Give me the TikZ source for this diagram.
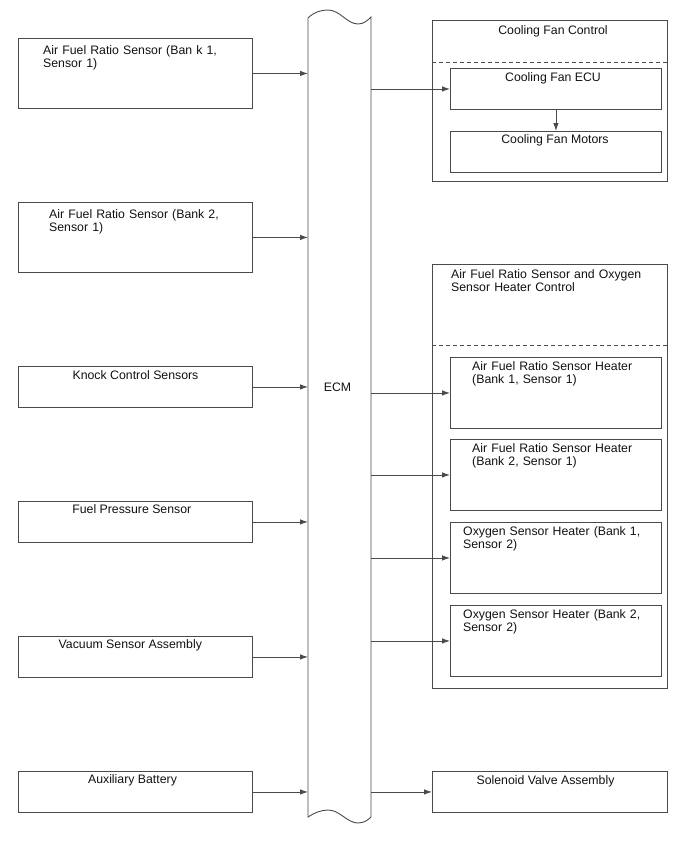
\documentclass[tikz,border=0pt]{standalone}
\usepackage{fontspec}
\setmainfont{Liberation Sans}
\usetikzlibrary{arrows.meta}
\definecolor{edge}{HTML}{4A4A4A}
\definecolor{ink}{HTML}{111111}

\begin{document}
\begin{tikzpicture}[x=1pt, y=-1pt, font=\fontsize{12.3}{13.8}\selectfont,
  box/.style={draw=edge, line width=0.9pt, rectangle, inner sep=0pt, anchor=north west},
  txt/.style={inner sep=0pt, text=ink},
  para/.style={txt, anchor=base west, text width=210pt, align=left},
  arr/.style={draw=edge, line width=0.9pt, -{Latex[length=8pt,width=5.5pt]}}]
  \useasboundingbox (0,0) rectangle (688,852);

  % inputs
  \node[box, minimum width=234pt, minimum height=70pt] (afr1) at (18,38) {};
  \node[box, minimum width=234pt, minimum height=70pt] (afr2) at (18,202) {};
  \node[box, minimum width=234pt, minimum height=41pt] (knock) at (18,366) {};
  \node[box, minimum width=234pt, minimum height=41pt] (fuel) at (18,501) {};
  \node[box, minimum width=234pt, minimum height=41pt] (vac) at (18,636) {};
  \node[box, minimum width=234pt, minimum height=41pt] (aux) at (18,771) {};
  \node[para] (afr1t) at (43,54) {Air Fuel Ratio Sensor (Ban k 1,\\Sensor 1)};
  \node[para] (afr2t) at (49,218) {Air Fuel Ratio Sensor (Bank 2,\\Sensor 1)};
  \node[txt, anchor=base] (knockt) at (135.5,379) {Knock Control Sensors};
  \node[txt, anchor=base] (fuelt) at (131.8,513) {Fuel Pressure Sensor};
  \node[txt, anchor=base] (vact) at (130.3,648) {Vacuum Sensor Assembly};
  \node[txt, anchor=base] (auxt) at (132.5,783) {Auxiliary Battery};

  % ECM
  \node[inner sep=0pt, minimum width=63pt, minimum height=800pt, anchor=north west] (ecm) at (308,17) {};
  \draw[edge, line width=0.9pt] (308,18) .. controls (314,12) and (321,10) .. (328,10)
    .. controls (340,10) and (347,24) .. (358,24) .. controls (364,24) and (368,20) .. (371,17)
    -- (371,817) .. controls (368,820) and (364,823) .. (358,823)
    .. controls (347,823) and (340,810) .. (328,810) .. controls (321,810) and (314,813) .. (308,817)
    -- cycle;
  \node[txt, anchor=base] (ecmt) at (337.5,391) {ECM};

  % cooling fan
  \node[box, minimum width=235pt, minimum height=161pt] (fanctl) at (432,20) {};
  \node[box, minimum width=211pt, minimum height=41pt] (fanecu) at (450,68) {};
  \node[box, minimum width=211pt, minimum height=41pt] (fanmot) at (450,131) {};
  \coordinate (fandash) at (0,62);
  \draw[edge, line width=0.9pt, dash pattern=on 4pt off 3pt] (fanctl.west |- fandash) -- (fanctl.east |- fandash);
  \node[txt, anchor=base] (fanctlt) at (553,34) {Cooling Fan Control};
  \node[txt, anchor=base] (fanecut) at (553,81) {Cooling Fan ECU};
  \node[txt, anchor=base] (fanmott) at (555,143) {Cooling Fan Motors};

  % heater control
  \node[box, minimum width=235pt, minimum height=424pt] (afctl) at (432,264) {};
  \coordinate (afdash) at (0,345);
  \draw[edge, line width=0.9pt, dash pattern=on 4pt off 3pt] (afctl.west |- afdash) -- (afctl.east |- afdash);
  \node[para] (afctlt) at (451,278) {Air Fuel Ratio Sensor and Oxygen\\Sensor Heater Control};
  \node[box, minimum width=211pt, minimum height=71pt] (htr1) at (450,357) {};
  \node[box, minimum width=211pt, minimum height=71pt] (htr2) at (450,439) {};
  \node[box, minimum width=211pt, minimum height=71pt] (htr3) at (450,522) {};
  \node[box, minimum width=211pt, minimum height=71pt] (htr4) at (450,605) {};
  \node[para] (htr1t) at (472,370) {Air Fuel Ratio Sensor Heater\\(Bank 1, Sensor 1)};
  \node[para] (htr2t) at (472,452) {Air Fuel Ratio Sensor Heater\\(Bank 2, Sensor 1)};
  \node[para] (htr3t) at (463,535) {Oxygen Sensor Heater (Bank 1,\\Sensor 2)};
  \node[para] (htr4t) at (463,618) {Oxygen Sensor Heater (Bank 2,\\Sensor 2)};

  % solenoid
  \node[box, minimum width=235pt, minimum height=41pt] (solv) at (432,771) {};
  \node[txt, anchor=base] (solvt) at (545.5,784) {Solenoid Valve Assembly};

  % connectors
  \foreach \n in {afr1,afr2,knock,fuel,vac,aux}
    \draw[arr] (\n.east) -- (\n.east -| ecm.west);
  \foreach \n in {fanecu,htr1,htr2,htr3,htr4,solv}
    \draw[arr] (\n.west -| ecm.east) -- (\n.west);
  \draw[arr] (fanecu.south) -- (fanmot.north);
\end{tikzpicture}
\end{document}
